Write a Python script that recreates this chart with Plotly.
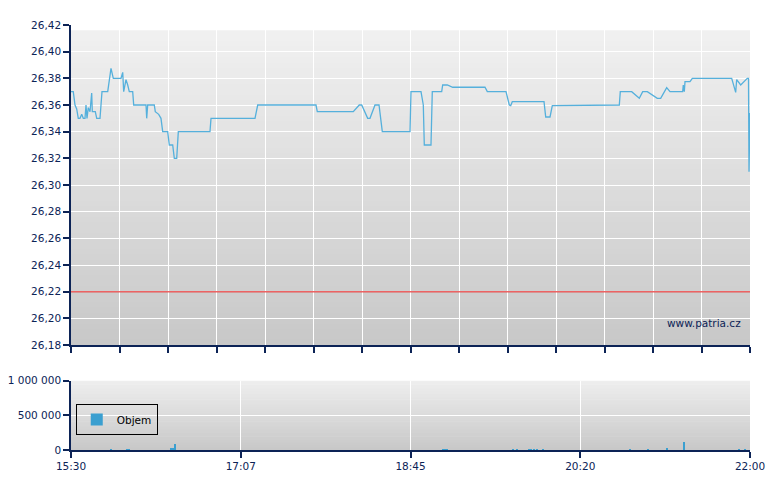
"""
Intraday price line with volume bars below (patria.cz style chart).
"""

from datetime import datetime

import plotly.graph_objects as go
from plotly.subplots import make_subplots

DAY = "2024-01-01"

# price ticks (time, price)
price_times = [
    "15:30:00", "15:31:19", "15:32:18", "15:33:16", "15:34:11", "15:35:10",
    "15:36:09", "15:37:04", "15:38:02", "15:38:37", "15:39:11", "15:39:56",
    "15:40:55", "15:41:53", "15:42:14", "15:43:57", "15:44:46", "15:46:39",
    "15:47:48", "15:51:05", "15:52:58", "15:54:18", "15:58:43", "15:59:42",
    "16:00:16", "16:01:35", "16:02:34", "16:03:29", "16:05:26", "16:06:01",
    "16:13:05", "16:13:29", "16:14:03", "16:17:50", "16:18:25", "16:20:22",
    "16:21:41", "16:22:40", "16:25:32", "16:26:28", "16:28:25", "16:29:20",
    "16:30:43", "16:31:38", "16:49:50", "16:50:25", "17:15:41", "17:17:14",
    "17:50:43", "17:51:28", "18:12:08", "18:15:35", "18:16:58", "18:20:25",
    "18:21:44", "18:24:37", "18:26:55", "18:28:48", "18:44:43", "18:45:17",
    "18:51:02", "18:52:21", "18:52:56", "18:56:46", "18:57:31", "19:02:55",
    "19:03:29", "19:06:08", "19:09:14", "19:27:47", "19:29:07", "19:39:51",
    "19:41:45", "19:42:33", "19:43:28", "20:01:41", "20:02:40", "20:05:08",
    "20:06:27", "20:44:56", "20:45:30", "20:52:03", "20:56:25", "20:58:22",
    "21:01:01", "21:06:45", "21:08:42", "21:12:09", "21:14:03", "21:21:20",
    "21:21:41", "21:22:16", "21:22:40", "21:25:32", "21:26:52", "21:49:29",
    "21:51:47", "21:52:21", "21:54:39", "21:58:27", "21:59:08", "21:59:26",
    "22:00:00",
]
prices = [
    26.370, 26.370, 26.360, 26.357, 26.350, 26.350,
    26.353, 26.350, 26.350, 26.360, 26.350, 26.358,
    26.355, 26.369, 26.355, 26.355, 26.350, 26.350,
    26.370, 26.370, 26.3875, 26.380, 26.380, 26.3845,
    26.370, 26.379, 26.375, 26.370, 26.370, 26.360,
    26.360, 26.350, 26.360, 26.360, 26.355, 26.353,
    26.350, 26.340, 26.340, 26.330, 26.330, 26.320,
    26.320, 26.340, 26.340, 26.350, 26.350, 26.360,
    26.360, 26.355, 26.355, 26.360, 26.360, 26.350,
    26.350, 26.360, 26.360, 26.340, 26.340, 26.370,
    26.370, 26.360, 26.330, 26.330, 26.370, 26.370,
    26.375, 26.375, 26.3733, 26.3733, 26.370, 26.370,
    26.360, 26.3595, 26.3625, 26.3625, 26.351, 26.351,
    26.3595, 26.360, 26.370, 26.370, 26.365, 26.370,
    26.370, 26.365, 26.365, 26.373, 26.370, 26.370,
    26.375, 26.370, 26.3775, 26.3775, 26.380, 26.380,
    26.3695, 26.379, 26.375, 26.380, 26.380, 26.310,
    26.354,
]

# volume (time, shares)
volume_times = [
    "15:52:58", "16:02:10", "16:03:19", "16:27:26", "16:28:35", "16:30:01",
    "19:03:40", "19:04:49", "19:05:58", "19:43:52", "19:46:10", "19:53:04",
    "19:54:13", "19:55:56", "19:57:40", "20:01:06", "20:51:04", "21:01:25",
    "21:12:30", "21:22:05", "21:53:52", "21:57:08",
]
volumes = [
    8000, 10000, 8000, 30000, 35000, 90000,
    8000, 6000, 8000, 6000, 8000, 6000,
    8000, 10000, 8000, 6000, 10000, 6000,
    30000, 120000, 6000, 8000,
]

reference_price = 26.22
bottom_ticklabels = ["15:30", "17:07", "18:45", "20:20", "22:00"]
watermark = "www.patria.cz"

NAVY = "#0c2356"
LINE_BLUE = "#55b0dc"
BAR_BLUE = "#3a9fd0"


def ts(t):
    return f"{DAY} {t}"


start = datetime.fromisoformat(ts("15:30:00"))
end = datetime.fromisoformat(ts("22:00:00"))
span = end - start

fig = make_subplots(rows=2, cols=1, shared_xaxes=False)

fig.add_trace(go.Scatter(x=[ts(t) for t in price_times], y=prices,
                         mode="lines",
                         line=dict(color=LINE_BLUE, width=1.3),
                         hoverinfo="skip", showlegend=False),
              row=1, col=1)

fig.add_trace(go.Bar(x=[ts(t) for t in volume_times], y=volumes,
                     width=45000,
                     marker=dict(color=BAR_BLUE, line=dict(width=0)),
                     name="Objem", showlegend=True),
              row=2, col=1)

fig.add_hline(y=reference_price, row=1, col=1,
              line_color="rgba(232,60,60,0.8)", line_width=1.5)

# grey gradient backgrounds (shapes below gridlines)
shapes = []
nbands = 60
for xref, yref, top, bottom in (("x domain", "y domain", 241, 200),
                                ("x2 domain", "y2 domain", 238, 200)):
    for i in range(nbands):
        f = i / (nbands - 1)
        g = round(top + (bottom - top) * f)
        shapes.append(dict(type="rect", xref=xref, yref=yref,
                           x0=0, x1=1,
                           y0=max(0, 1 - (i + 1.6) / nbands), y1=1 - i / nbands,
                           fillcolor=f"rgb({g},{g},{g})",
                           line=dict(width=0), layer="below"))

top_ticks = [start + span * k / 14 for k in range(15)]
bottom_ticks = [start + span * k / 4 for k in range(5)]

axis_common = dict(showline=True, linecolor=NAVY, linewidth=1.5,
                   ticks="outside", tickcolor=NAVY, ticklen=6, tickwidth=1.5,
                   gridcolor="white", gridwidth=1, zeroline=False,
                   automargin=False,
                   tickfont=dict(color=NAVY, size=10.5, family="DejaVu Sans"))

# page body adds an 8px offset, so the figure is a bit smaller than the window
fig.update_layout(
    width=772, height=482,
    margin=dict(l=63, r=30, t=17, b=40),
    paper_bgcolor="white",
    plot_bgcolor="rgba(0,0,0,0)",
    separators=", ",
    shapes=shapes,
    bargap=0,
    xaxis=dict(axis_common, type="date", range=[start, end],
               tickvals=top_ticks, showticklabels=False,
               domain=[0, 1], anchor="y"),
    yaxis=dict(axis_common, range=[26.18, 26.42], dtick=0.02,
               tickformat=".2f", domain=[105 / 425, 1], anchor="x"),
    xaxis2=dict(axis_common, type="date", range=[start, end],
                tickvals=bottom_ticks, ticktext=bottom_ticklabels,
                domain=[0, 1], anchor="y2"),
    yaxis2=dict(axis_common, range=[0, 1000000],
                tickvals=[0, 500000, 1000000], tickformat=",d",
                domain=[0, 69.3 / 425], anchor="x2"),
    legend=dict(x=0.007, y=0.108, xanchor="left", yanchor="top",
                bgcolor="rgba(0,0,0,0)", bordercolor="black", borderwidth=1,
                font=dict(color="black", size=10.5, family="DejaVu Sans"),
                itemwidth=30, tracegroupgap=0),
    annotations=[dict(text=watermark, xref="x domain", yref="y domain",
                      x=0.99, y=0.045, xanchor="right", yanchor="bottom",
                      showarrow=False,
                      font=dict(color=NAVY, size=10.5, family="DejaVu Sans"))],
)

fig.write_html("out.html")
